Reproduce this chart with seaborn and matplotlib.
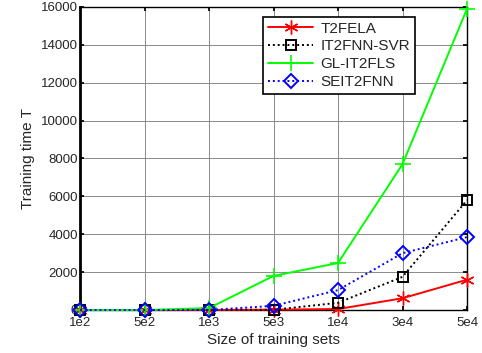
import matplotlib
matplotlib.use("Agg")
import matplotlib.pyplot as plt
import seaborn as sns
import numpy as np
import pandas as pd

categories = ["1e2", "5e2", "1e3", "5e3", "1e4", "3e4", "5e4"]
t2fela = [0, 0, 0, 20, 50, 620, 1600]
it2fnn_svr = [0, 0, 0, 10, 380, 1750, 5800]
gl_it2fls = [0, 0, 100, 1800, 2480, 7700, 15900]
seit2fnn = [0, 0, 0, 220, 1050, 3000, 3850]

sns.set_theme(style="white")
plt.rcParams['font.family'] = ['Liberation Sans', 'DejaVu Sans']

fig = plt.figure(figsize=(4.82, 3.53), dpi=100)
ax = fig.add_axes([80/482, 1-310/353, (467-80)/482, (310-7)/353])

pos = np.arange(len(categories))
series = [
    ("T2FELA", t2fela, dict(color="#ff0000", linestyle="-", marker=(6, 2, 0), markersize=10, markeredgewidth=1.0, markerfacecolor="none")),
    ("IT2FNN-SVR", it2fnn_svr, dict(color="black", linestyle=(0, (1, 1.5)), marker="s", markersize=7.5, markerfacecolor="none", markeredgewidth=1.4)),
    ("GL-IT2FLS", gl_it2fls, dict(color="#00ff00", linestyle="-", marker="+", markersize=12, markeredgewidth=1.2)),
    ("SEIT2FNN", seit2fnn, dict(color="#0000ff", linestyle=(0, (1, 1.5)), marker="D", markersize=7, markerfacecolor="none", markeredgewidth=1.4)),
]
for name, vals, st in series:
    df = pd.DataFrame({"x": pos, "y": vals})
    sns.lineplot(data=df, x="x", y="y", ax=ax, label=name, linewidth=1.4,
                 markeredgecolor=st["color"], clip_on=False, zorder=3, **st)

ax.set_xlim(0, 6)
ax.set_ylim(0, 16000)
ax.set_xticks(pos)
ax.set_xticklabels(categories)
ax.set_yticks(np.arange(0, 16001, 2000))
ax.tick_params(axis="both", direction="in", labelsize=9.5, length=3, color="black")
ax.tick_params(axis="x", pad=5)
ax.tick_params(axis="y", pad=1.5)
ax.tick_params(axis="both", which="both", top=True, right=True, bottom=True, left=True)
ax.grid(True, color="#8a8a8a", linestyle="-", linewidth=0.7)
ax.set_axisbelow(True)
for s in ax.spines.values():
    s.set_color("black")
    s.set_linewidth(1.0)
ax.spines["left"].set_linewidth(2.0)
ax.set_xlabel("Size of training sets", fontsize=11, labelpad=3)
ax.set_ylabel("Training time T", fontsize=11, labelpad=4)

leg = ax.legend(loc="upper left", bbox_to_anchor=((263-80)/387, 1-(17-7)/303),
                fontsize=11, frameon=True, fancybox=False, borderpad=0.3,
                handlelength=3.0, labelspacing=0.25, handletextpad=0.45, borderaxespad=0)
leg.get_frame().set_edgecolor("black")
leg.get_frame().set_linewidth(1.2)
leg.get_frame().set_alpha(1)

fig.savefig("out.png", dpi=100)
